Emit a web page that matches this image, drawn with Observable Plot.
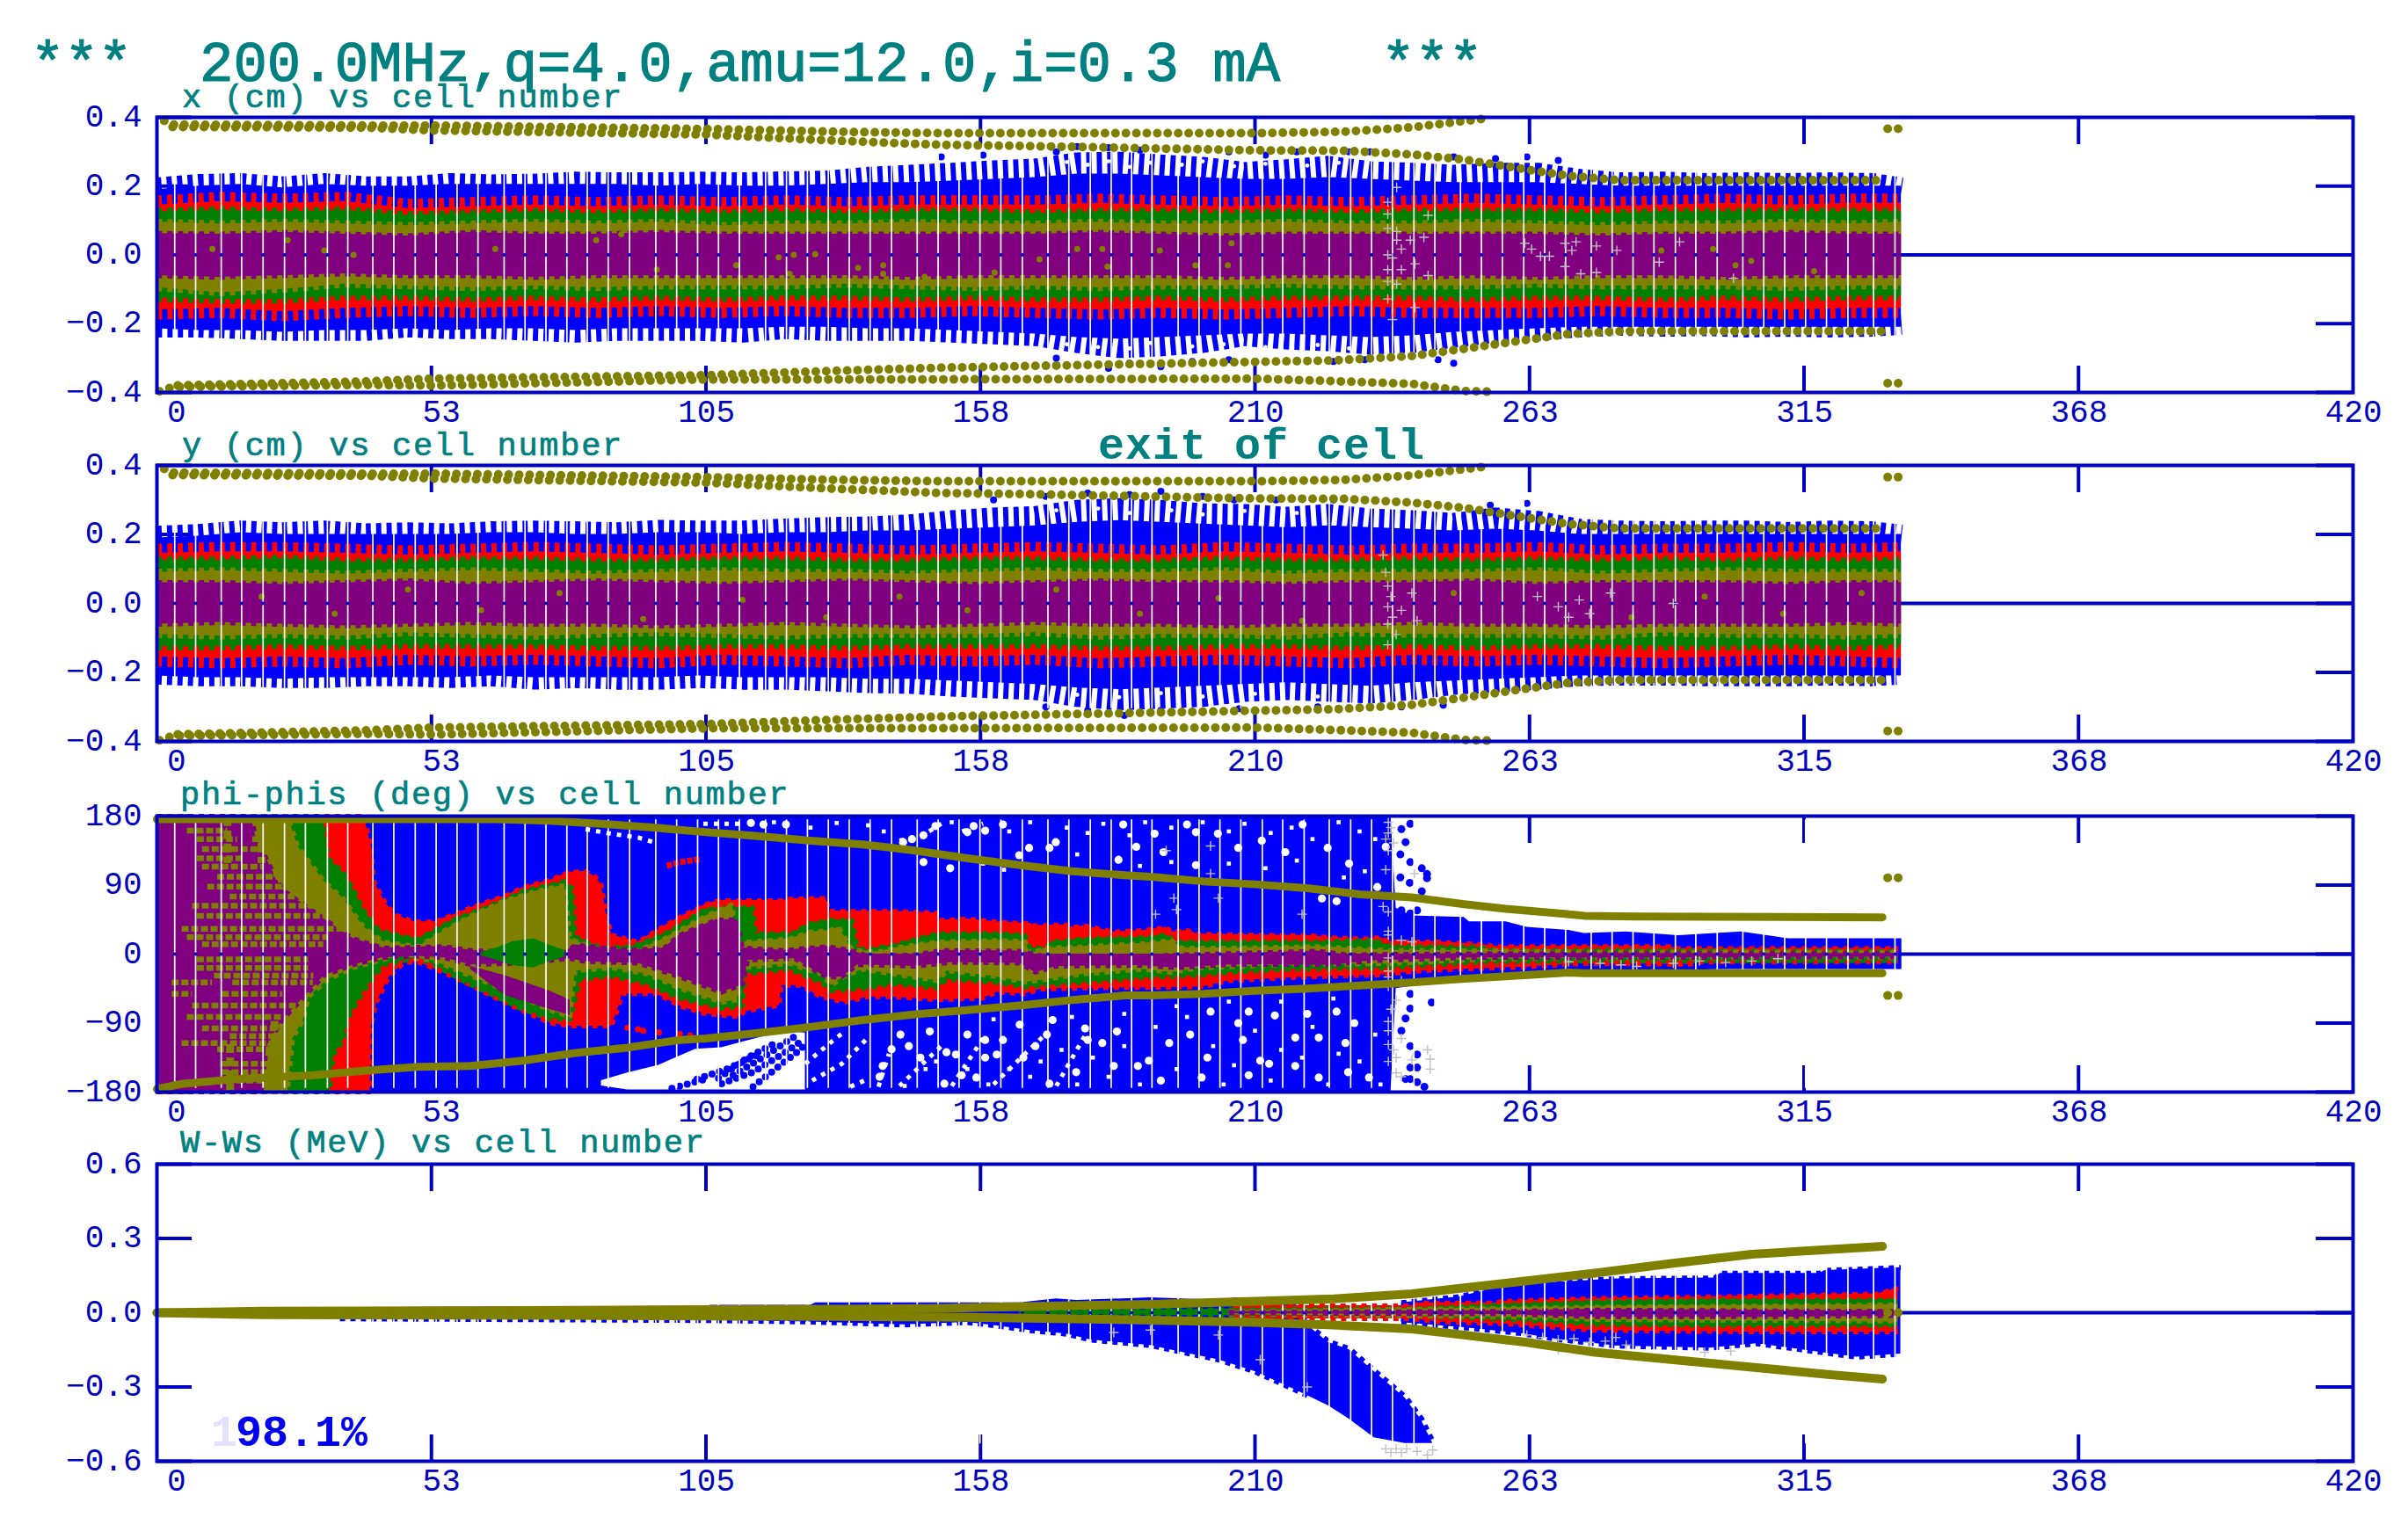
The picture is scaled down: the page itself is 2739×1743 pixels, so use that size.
<!DOCTYPE html>
<html><head><meta charset="utf-8">
<script src="https://cdn.jsdelivr.net/npm/d3@7"></script>
<script src="https://cdn.jsdelivr.net/npm/@observablehq/plot@0.6"></script>
<style>
html,body{margin:0;padding:0;background:#fff}
#page{position:relative;width:2739px;height:1743px;overflow:hidden;background:#fff}
#page svg{position:absolute;left:0;overflow:visible}
#page svg text{-webkit-text-stroke:0.9px #0000c0}
.lbl{position:absolute;font-family:"Liberation Mono",monospace;color:#008080;white-space:pre;z-index:5;line-height:1}
</style></head><body><div id="page"></div>
<script>
const DARK="#0000c0",BLUE="#0000ff",RED="#ff0000",GREEN="#008000",OLIVE="#808000",PURPLE="#800080",GRAY="#c0c0c0";
const xLabelTicks=[0,52.5,105,157.5,210,262.5,315,367.5,420];
const xInnerTicks=[52.5,105,157.5,210,262.5,315,367.5];

// white gaps between cell groups (drift spaces with no plotted cell)
const gapCells=[3.4,7.4,12.3,16.2,20.3,24.4,28.4,32.6,36.5,41.3,45.3,49.4,53.4,57.4,61.4,66.4,70.4,74.4,78.4,82.3,86.3,90.4,95.4,99.4,103.4,107.4,111.4,116.4,120.4,124.4,128.4,132.4,136.4,140.5,145.4,149.4,153.4,157.4,161.4,165.5,170.4,174.4,178.5,182.5,186.4,190.3,195.3,199.3,203.3,207.3,211.4,215.3,219.4,224.2,228.3,232.3,236.3,240.4,244.4,249.3,253.3,257.3,261.4,265.4,269.4,274.3,278.3,282.3,286.3,290.4,294.3,298.4,303.3,307.3,311.3,315.3,319.3,323.4,328.3,332.4];

// ---- panels 1 and 2: sampled cells
const cellsA=[0,8,16,24,32,40,48,56,64,72,80,88,96,104,112,120,128,136,144,152,160,168,176,184,192,200,208,216,224,232,240,248,256,264,272,280,288,296,304,312,320,328,333.6];
const cellsB=[0,12,24,36,48,60,72,84,96,108,120,132,144,156,168,180,192,204,216,228,240,252,264,276,288,300,312,324,333.6];

const xBlueTipTop=[.225,.235,.238,.228,.238,.228,.228,.238,.234,.236,.242,.24,.24,.242,.24,.243,.245,.256,.262,.268,.275,.28,.298,.3,.292,.285,.27,.278,.288,.272,.268,.262,.268,.268,.25,.24,.242,.238,.24,.238,.24,.238,.225];
const xBlueBodyTop=[.19,.2,.205,.195,.205,.2,.2,.205,.205,.205,.205,.205,.2,.205,.2,.2,.205,.21,.21,.215,.22,.225,.235,.235,.23,.225,.22,.22,.225,.22,.215,.21,.21,.21,.205,.2,.2,.2,.2,.2,.2,.2,.2];
const xBlueTipBot=[-.24,-.24,-.245,-.25,-.25,-.25,-.24,-.245,-.245,-.25,-.255,-.25,-.25,-.25,-.255,-.245,-.25,-.25,-.25,-.255,-.26,-.265,-.285,-.3,-.295,-.285,-.265,-.275,-.28,-.29,-.285,-.27,-.255,-.25,-.24,-.235,-.238,-.236,-.24,-.238,-.24,-.238,-.232];
const xBlueBodyBot=[-.215,-.22,-.22,-.225,-.22,-.22,-.215,-.22,-.215,-.215,-.22,-.215,-.215,-.215,-.215,-.21,-.21,-.215,-.215,-.22,-.225,-.23,-.24,-.245,-.24,-.235,-.23,-.23,-.235,-.24,-.235,-.225,-.22,-.215,-.21,-.21,-.21,-.21,-.21,-.21,-.21,-.21,-.21];
const xRedTop=[.145,.155,.15,.155,.135,.14,.145,.14,.145,.14,.145,.14,.145,.145,.145,.15,.145,.14,.145,.14,.145,.15,.145,.14,.145,.15,.145,.15,.15];
const xRedBot=[-.16,-.155,-.165,-.155,-.15,-.155,-.15,-.155,-.15,-.155,-.15,-.155,-.155,-.15,-.155,-.16,-.155,-.16,-.155,-.15,-.155,-.155,-.155,-.15,-.155,-.155,-.16,-.155,-.155];
const xGreenTop=[.125,.13,.125,.13,.115,.12,.125,.12,.125,.12,.125,.12,.125,.125,.12,.125,.125,.12,.125,.12,.125,.125,.125,.12,.125,.125,.125,.125,.125];
const xGreenBot=[-.125,-.13,-.13,-.12,-.12,-.125,-.12,-.125,-.12,-.125,-.12,-.12,-.125,-.12,-.125,-.125,-.12,-.125,-.12,-.12,-.12,-.125,-.12,-.12,-.125,-.12,-.125,-.12,-.12];
const xOliveTop=[.095,.09,.095,.09,.085,.09,.095,.09,.095,.085,.09,.09,.095,.09,.09,.095,.09,.09,.095,.09,.09,.095,.09,.085,.09,.09,.095,.09,.095];
const xOliveBot=[-.095,-.11,-.1,-.085,-.09,-.095,-.09,-.095,-.09,-.09,-.09,-.085,-.09,-.095,-.09,-.095,-.09,-.09,-.085,-.09,-.09,-.09,-.085,-.09,-.09,-.09,-.095,-.09,-.09];
const xPurpleTop=[.062,.06,.065,.06,.055,.065,.06,.06,.065,.06,.06,.06,.06,.06,.06,.065,.06,.055,.06,.06,.06,.06,.06,.055,.06,.06,.065,.06,.06];
const xPurpleBot=[-.06,-.065,-.06,-.055,-.06,-.06,-.065,-.06,-.06,-.06,-.06,-.06,-.065,-.06,-.06,-.06,-.06,-.065,-.06,-.06,-.065,-.06,-.065,-.06,-.06,-.065,-.06,-.06,-.06];

const yBlueTipTop=[.225,.23,.24,.235,.24,.232,.235,.232,.238,.24,.238,.235,.242,.24,.24,.246,.25,.252,.258,.27,.278,.282,.3,.305,.3,.29,.288,.28,.288,.275,.27,.262,.278,.268,.245,.24,.238,.24,.24,.236,.24,.238,.228];
const yBlueBodyTop=[.19,.195,.205,.2,.2,.2,.2,.2,.205,.205,.2,.2,.205,.205,.2,.205,.205,.21,.21,.215,.22,.225,.235,.24,.235,.23,.225,.22,.225,.22,.215,.21,.215,.21,.2,.2,.2,.2,.2,.2,.2,.2,.2];
const yBlueTipBot=[-.235,-.24,-.24,-.245,-.245,-.24,-.24,-.245,-.24,-.25,-.245,-.25,-.25,-.245,-.25,-.25,-.255,-.26,-.262,-.27,-.275,-.28,-.3,-.31,-.305,-.3,-.285,-.28,-.285,-.29,-.28,-.265,-.258,-.25,-.24,-.238,-.238,-.24,-.24,-.24,-.238,-.24,-.235];
const yBlueBodyBot=[-.21,-.215,-.215,-.22,-.215,-.215,-.215,-.215,-.21,-.215,-.215,-.215,-.215,-.21,-.215,-.215,-.215,-.22,-.22,-.225,-.23,-.235,-.245,-.25,-.245,-.24,-.235,-.23,-.235,-.24,-.23,-.225,-.22,-.215,-.21,-.21,-.21,-.21,-.21,-.21,-.21,-.21,-.21];
const yRedTop=[.145,.15,.15,.145,.14,.145,.15,.145,.14,.145,.15,.145,.14,.145,.15,.145,.14,.15,.145,.14,.145,.145,.15,.14,.145,.145,.15,.145,.15];
const yRedBot=[-.155,-.16,-.155,-.16,-.15,-.155,-.15,-.155,-.16,-.15,-.155,-.16,-.15,-.155,-.15,-.16,-.155,-.15,-.155,-.16,-.15,-.155,-.15,-.155,-.16,-.155,-.15,-.155,-.16];
const yGreenTop=[.125,.125,.13,.12,.12,.125,.125,.12,.12,.125,.125,.12,.12,.125,.125,.12,.12,.125,.12,.12,.125,.12,.125,.12,.125,.12,.125,.12,.125];
const yGreenBot=[-.125,-.125,-.12,-.125,-.12,-.12,-.12,-.125,-.125,-.12,-.12,-.125,-.12,-.12,-.12,-.125,-.125,-.12,-.12,-.125,-.12,-.125,-.12,-.12,-.125,-.125,-.12,-.125,-.12];
const yOliveTop=[.09,.095,.09,.085,.09,.095,.09,.085,.09,.095,.09,.09,.085,.09,.095,.09,.09,.095,.085,.09,.09,.09,.095,.085,.09,.095,.09,.09,.09];
const yOliveBot=[-.09,-.095,-.09,-.095,-.085,-.09,-.095,-.09,-.085,-.09,-.095,-.09,-.09,-.09,-.085,-.095,-.09,-.09,-.095,-.085,-.09,-.09,-.09,-.095,-.085,-.09,-.09,-.095,-.09];
const yPurpleTop=[.06,.06,.055,.06,.065,.055,.06,.065,.06,.055,.06,.065,.06,.055,.06,.065,.06,.06,.055,.06,.06,.065,.055,.06,.06,.06,.055,.06,.06];
const yPurpleBot=[-.06,-.055,-.06,-.065,-.06,-.055,-.06,-.06,-.065,-.06,-.055,-.06,-.065,-.06,-.055,-.06,-.06,-.065,-.06,-.06,-.055,-.06,-.06,-.065,-.06,-.06,-.06,-.055,-.06];

// stray particles outside the main columns
const xBlueStray=[[150,.285],[158,.29],[172,.3],[176,.315],[182,.312],[188,.305],[195,.31],[205,.3],[212,.29],[218,.3],[228,.3],[232,.3],[248,.285],[256,.28],[262,.285],[268,.275],[172,-.3],[178,-.32],[182,-.33],[186,-.315],[192,-.325],[198,-.31],[205,-.305],[225,-.31],[231,-.305],[245,-.305],[248,-.315]];
const yBlueStray=[[160,.3],[170,.31],[178,.32],[186,.315],[192,.325],[200,.31],[206,.3],[214,.3],[225,.3],[255,.285],[262,.29],[170,-.3],[178,-.31],[185,-.325],[192,-.31],[200,-.315],[207,-.305],[222,-.3],[238,-.3],[246,-.295]];
const xTipSpecks=[[174,.27],[178,.262],[182,.272],[186,.256],[190,.268],[196,.262],[200,.272],[206,.258],[212,.265],[220,.26],[226,.268],[174,-.26],[180,-.268],[186,-.272],[190,-.256],[198,-.266],[204,-.26],[212,-.268],[222,-.262],[228,-.272]];
const yTipSpecks=[[172,.27],[180,.275],[186,.262],[194,.27],[200,.258],[208,.268],[218,.262],[176,-.265],[184,-.272],[192,-.26],[200,-.27],[210,-.262],[222,-.27]];

// olive extreme-particle rows, shared reading for x and y panels
const envUpOuter=[[0.5,.396],[3,.379],[40,.376],[53,.376],[105,.366],[130,.358],[150,.354],[210,.354],[227,.358],[240,.371],[250,.389],[255,.398]];
const envUpInner=[[3,.372],[40,.37],[53,.362],[105,.35],[130,.332],[150,.32],[165,.317],[210,.304],[227,.303],[240,.292],[250,.277],[262,.248],[270,.23],[280,.217],[330,.217]];
const envLoInner=[[3,-.38],[40,-.368],[53,-.36],[105,-.35],[130,-.337],[150,-.328],[210,-.311],[225,-.307],[240,-.294],[250,-.273],[262,-.247],[270,-.23],[280,-.222],[330,-.222]];
const envLoOuter=[[0.5,-.397],[3,-.384],[40,-.378],[53,-.38],[105,-.362],[150,-.362],[210,-.36],[225,-.367],[240,-.375],[250,-.396],[255,-.398]];
const xEndDots=[[331,.367],[333,.367],[331,-.373],[333,-.373]];
const yEndDots=[[331,.366],[333,.366],[331,-.37],[333,-.37]];

const xGrayCrosses=[[235.4,.153],[235.4,.119],[235.4,.077],[237.1,.068],[237.1,.043],[238,.017],[235.4,0],[236.3,-.009],[235.4,-.043],[238,-.043],[235.4,-.077],[237.1,-.085],[239.7,.043],[242.3,.051],[240.6,-.026],[243.1,-.06],[237.1,.196],[243.1,.115],[261.6,.034],[262.9,.017],[264.6,-.004],[266.3,-.004],[269.3,.034],[270.6,.013],[271.4,.038],[269.3,-.034],[272.3,-.055],[275.3,-.051],[275.3,.026],[279.2,.013],[291.2,.038],[287.3,-.021],[301.5,-.068],[235.4,-.128],[240.6,-.153],[236.3,-.188]];
const yGrayCrosses=[[234.5,.14],[235,.09],[235.4,.05],[236,.02],[235.4,-.01],[236.3,-.04],[235.4,-.06],[237,-.09],[235.4,-.12],[238,-.02],[240,.03],[241,-.05],[264,.02],[268,-.01],[270,-.04],[272,.01],[274,-.03],[278,.03],[290,.0]];
const xSpeckles=[[118.9,-.007],[110.8,-.03],[121.8,0],[125.9,.002],[134.1,-.038],[138.9,-.03],[138.9,-.055],[121,-.055],[146.8,-.064],[160.2,-.051],[168.8,-.013],[176,.017],[191.8,.013],[204.8,-.03],[205.5,.034],[180.8,.017],[181.8,-.034],[198.6,-.03],[10.6,.017],[32,.013],[25,.043],[14.5,-.077],[37.6,0],[64.7,.017],[88.8,.06],[84,.043],[95.6,-.043],[301.9,-.03],[287.7,.013],[304.9,-.017],[316.9,-.047],[297.6,.017]];
const ySpeckles=[[20,.02],[34,-.03],[48,.04],[62,-.02],[77,.03],[93,-.045],[112,.01],[128,-.04],[142,.02],[155,-.02],[172,.04],[188,-.03],[203,.015],[219,-.05],[248,.03],[282,-.04],[296,.02],[311,-.03],[326,.03]];

// ---- panel 3 (phi-phis)
const p3BlueTop=[[0,180],[236,180],[237,60],[240,50],[250,48],[251,42],[258,42],[262,35],[270,31],[273,27],[281,29],[291,24],[303,29],[308,24],[312,20],[333.7,20]];
const p3BlueBot=[[0,-180],[236,-180],[237,-45],[250,-32],[260,-26],[273,-24],[300,-20],[333.7,-20]];
const p3BlueStray=[[239.7,120],[241.9,112],[242.9,104.5],[242.9,99],[241.9,82],[239.6,93],[238.8,146],[239.7,170],[238,163],[238,57],[241,57],[239.7,53],[243.8,-63],[239.7,-52],[239.7,-71],[238.8,-84],[239.7,-120],[241,-131],[239.7,-148],[241,-148],[238.8,-163],[239.7,-163],[241,-167],[242.4,-173],[238,-100],[238,-30],[237.8,100],[237.8,130]];
const p3WedgeCells=[85,90,96,103,108,113,118,122,124];
const p3WedgeTop=[-165,-155,-145,-124,-122,-113,-104,-102,-103];
const p3WedgeBot=[-172,-177,-177,-177,-177,-177,-177,-177,-177];
const p3BlueStrings=[
 [[107.4,-162],[113,-135],[118.3,-116]],
 [[110.2,-158],[115.8,-135],[122.5,-105]],
 [[108,-169],[114,-154],[120.3,-127.5],[123.6,-112]],
 [[114,-173],[119,-146],[122.5,-127.5],[124,-118]],
 [[103.3,-163],[109,-150],[115,-131]],
 [[98.5,-175],[105,-163]]];
const p3WhiteStrings=[
 [[124,-143],[128.7,-116],[131.5,-101]],
 [[125.3,-165],[131,-143],[136,-109]],
 [[132.6,-173],[136,-163]],
 [[104.5,170],[111.6,170]],
 [[82,163],[86,158],[92,152],[95,146]],
 [[142,148],[146,153],[150,170]],
 [[154,160],[158,170]],
 [[138,-173],[140,-130]],
 [[142,-172],[150,-120]],
 [[152,-172],[158,-110]],
 [[160,-170],[170,-104]],
 [[172,-172],[178,-100]]];
const p3WhiteSpecks=[[148.9,167],[146.6,155],[144.4,150],[142.7,146],[156.2,167],[155,159],[158.4,161],[161.8,169],[166.8,138.5],[170.7,138.5],[171.9,146],[187.3,140],[184.8,169],[183.9,123],[164.9,129],[146.6,120],[151.7,112],[120.3,169],[116,169],[113.6,171],[140.5,-124],[138.8,-146],[143.8,-120],[146,-135],[151,-128],[152.8,-131],[155,-105],[158.4,-112],[161.8,-112],[160.6,-131],[158.4,-135],[156.7,-161],[150.6,-169],[170.2,-105],[168,-120],[177.5,-97],[178,-112],[175.8,-154],[183.6,-101],[183,-146],[170.7,-169],[165.7,-135],[180.8,-116],[165,-92],[171.3,-86],[147.8,-101],[142.2,-105],[153.9,-158],[138.2,-160],[187.6,-146],[198.7,159],[202.9,157],[206.8,138.5],[190.8,157],[192.5,133],[198.7,116],[211.3,148],[215.8,133],[219.1,169],[223.9,138.5],[228,118],[225.6,69],[222.8,72.5],[233.4,87.5],[235,140],[197,169],[189.7,-139],[193.6,-116],[200.9,-135],[201.5,-75],[206.8,-90],[208.8,-75],[208.8,-158],[212.7,-143],[217.7,-146],[220,-78],[222.2,-109],[227.3,-116],[222.2,-161],[217.7,-109],[213.8,-80],[229,-90],[225.6,-75],[227.8,-154],[199.8,-161],[231.8,-161],[192,-165],[207.7,-112],[197.6,-105],[211,-139]];
const p3SmallSpecks=[[118,172],[125,165],[130,171],[136,168],[139,160],[152,172],[163,160],[167,172],[174,165],[178,158],[181,170],[186,155],[189,172],[194,165],[200,172],[205,160],[208,170],[213,158],[217,165],[221,150],[226,172],[230,160],[233,150],[194,120],[205,118],[212,112],[218,122],[227,100],[231,108],[188,115],[176,130],[158,118],[162,110],[143,-172],[147,-150],[149,-140],[155,-150],[159,-170],[163,-150],[167,-160],[169,-140],[173,-125],[176,-170],[179,-135],[182,-160],[185,-120],[188,-170],[191,-95],[195,-150],[197,-82],[202,-120],[204,-170],[206,-145],[210,-100],[213,-165],[215,-125],[219,-135],[221,-95],[224,-170],[226,-130],[230,-140],[233,-105],[234,-170],[160,-85],[175,-82],[185,-78],[195,-68],[205,-62],[215,-62],[225,-58]];
const p3RedTop=[[0,180],[39.6,180],[41,140],[41.5,95],[43.5,69],[45.4,52],[49.2,42],[53,42],[56.9,52],[61.7,65],[66.6,76],[70.4,88],[75.3,97],[78.7,107],[82,108],[84,100],[85,90],[86,50],[87,25],[92,16],[95.6,31],[100.4,50],[105,65],[107.4,70],[119.7,70],[121,72],[128,73],[128.5,56],[140.5,56],[149,54],[149.5,44],[155,46],[160.6,42],[167,40],[168,37],[174,38.5],[175,35],[177.5,37],[183,29],[188.7,31],[193,35],[194,29],[197,31],[199,26],[221,24],[224.5,21.5],[230.6,20],[234,21.5],[236,16],[244.7,16],[253,13],[256,10],[272.7,10],[289,10],[291,7.5],[333,7.5]];
const p3RedBot=[[0,-180],[40.8,-180],[41,-94],[42,-63],[44.4,-30],[47.3,-11],[50.2,-11],[54,-22],[58.9,-37],[63.7,-54],[69.5,-73],[75.3,-90],[79,-94],[86.9,-94],[88,-75],[89,-52],[95.6,-52],[100.4,-69],[105,-78],[111.3,-82],[112.4,-75],[119,-67],[119.5,-41],[123,-41],[127,-56],[131.5,-63],[136,-56],[140.5,-56],[149.4,-60],[158,-58],[160.6,-50],[166,-52],[169,-46],[177.5,-44.5],[199.8,-43],[205,-35],[216.6,-31],[225,-29],[233.4,-27.5],[241.9,-22],[253,-19],[261.5,-17],[272.7,-12.5],[293,-13.6],[295,-10.5],[333,-10]];
const p3RedStrayTop=[[97.5,115],[100,120],[104,124]];
const p3RedStrayBot=[[90,-96],[92,-98],[93,-100],[96,-102],[100,-104],[102,-106]];
const p3GreenTop=[[0,180],[31.9,180],[32,165],[32.8,125],[35.7,106],[37.6,84],[39.6,57],[42.5,31],[47.3,23],[50,20],[57,46],[63,61],[70,82],[78,95],[79.5,85],[80,23],[85,8],[91,10],[97.5,28],[105,59],[114,61],[114.5,27],[121.4,27],[125,40],[128.7,44],[133,44],[134,8],[136,6],[141,12],[149.4,27],[160,27],[166,25],[167,8],[170,8],[171,16],[177.5,20],[188.7,21.5],[193,25],[195,16],[205,16],[222,16],[233,18],[236,10],[253,9],[256,5],[272.7,5],[333,3.5]];
const p3GreenBot=[[0,-180],[33,-180],[33.8,-131],[35.7,-112],[36.7,-82],[39.6,-48],[43.4,-14],[50,-5],[53,-14],[59,-37],[63.7,-52],[69.5,-71],[75,-84],[79,-86],[81,-33],[87,-29],[93.6,-39],[100,-58],[108,-71],[112,-68],[112.5,-26],[121,-20],[124,-29],[127,-37],[129,-48],[136,-44.5],[140.5,-39],[149.4,-44.5],[151,-33],[160,-37],[166,-43],[177.5,-37],[188.7,-31],[199.8,-27.5],[205,-24],[216.6,-20],[236,-18],[253,-10.5],[272.7,-9],[333,-9]];
const p3OliveTop=[[0,180],[25,180],[27,140],[32,95],[35.7,72],[39.6,35],[43.4,16],[50,10],[55,31],[60,50],[66.6,70],[72.4,82],[78,90],[79,20],[85,5],[92,5],[97,20],[105,50],[110,65],[111,15],[121,20],[125,29],[128.7,31],[130.4,35],[133,5],[138,3],[141,8],[149,16],[160,18],[166,17],[167,1],[170,8],[177.5,10],[188.7,14],[194,18],[196,8],[205,8],[222,10],[236,5],[256,4.5],[272.7,3],[333,2.6]];
const p3OliveBot=[[0,-180],[25,-180],[26,-110],[28,-86],[29,-56],[32.8,-33],[37.6,-18],[43.4,-7],[47,-3],[53,-9],[59,-26],[63.7,-39],[69.5,-56],[75,-73],[79,-82],[80,-22],[87,-18],[93.6,-26],[100,-45],[108,-63],[111,-60],[112,-18],[121,-12.5],[124,-20],[127,-26],[129,-41],[131.5,-29],[135,-20],[140.5,-26],[149.4,-35],[151,-22],[160,-29],[166,-37],[177.5,-26],[188.7,-20],[194,-24],[199.8,-18],[216.6,-14],[236,-12.5],[253,-7],[272.7,-5],[333,-5]];
const p3PurpleTop=[[0,180],[18,180],[19,150],[22,110],[24,84],[32,46],[37.6,20],[43.4,8],[55,10],[60,5],[70,2],[78,2],[80,12],[90,5],[97,8],[100,25],[107,45],[111,45],[112,8],[120,5],[128,10],[132,6],[136,-2],[145,-1],[150,5],[165,4],[170,-3],[188,-3],[195,-1],[205,1],[222,4],[228,-1],[236,0],[260,1],[333,1]];
const p3PurpleBot=[[0,-180],[20,-180],[21,-120],[24,-86],[32,-28],[37.6,-14],[43,-5],[50,-3],[55,-5],[60,-14],[70,-12],[79,-6],[82,-10],[92,-12],[100,-30],[108,-50],[112,-40],[113,-8],[122,-6],[128,-30],[131,-30],[134,-14],[145,-16],[152,-11],[165,-12],[168,-24],[172,-16],[188,-15],[195,-18],[205,-14],[225,-14],[232,-9],[250,-5],[333,-4]];
const p3LobeCells=[60,66.6,75,79];
const p3LobeTop=[-16,-28,-48,-60];
const p3LobeBot=[-20,-54,-72,-80];
const p3GreenBlobCells=[62,65,68,72,75,78];
const p3GreenBlobTop=[2,8,16,20,12,5];
const p3GreenBlobBot=[-2,-8,-15,-18,-10,-4];
// olive rows over the purple core: [phase, first cell, last cell]
const p3OliveRows=[[161,5.8,13.5],[150,7.7,15.4],[150,18.3,24],[137,8.7,24],[125,7.7,16.4],[114,8.7,20.3],[101,11.6,25],[88,9.7,29],[75,14,27],[63,6.8,31.9],[50,7.7,35.7],[33,4.8,37.6],[22,5.8,32.8],[13,8.7,31.9],[-7,7.7,29],[-18,7.7,29],[-28,11,30],[-37,2.9,10.6],[-37,14.5,29.9],[-52,2.9,6.8],[-52,12.5,24],[-67,6.8,27],[-82,5.8,24],[-97,8.7,24],[-107,14,24],[-116,4.8,24],[-124,11.6,24],[-143,12.5,24],[-154,12.5,25],[-165,13.5,24]];
const p3OliveColumns=[[13.5,178,118],[20,178,118],[23,178,100],[14,-118,-178],[22.5,-88,-178]];
const p3EnvTop=[[0,176],[60,176],[65,176],[75,174],[85,170],[95,165],[105,159],[115,154],[125,148],[135,143],[145,135],[155,125],[165,116],[175,108],[185,103],[190,101],[200,95],[210,91],[220,86],[230,78],[240,74],[250,65],[258,59],[270,52],[273,50],[283,49],[330,48]];
const p3EnvBot=[[0,-176],[5,-169],[15,-163],[30,-158],[40,-152],[50,-147],[60,-146],[70,-139],[80,-129],[90,-122],[100,-112],[105,-110],[115,-103],[125,-95],[135,-86],[145,-78.5],[155,-73],[165,-67],[175,-60],[185,-54],[190,-54],[200,-52],[210,-48],[220,-45],[230,-41],[240,-37],[250,-32],[258,-29],[270,-24],[273,-25],[330,-25]];
const p3EndDots=[[331,99.6],[333,99.6],[331,-54],[333,-54]];
const p3GrayCrosses=[[235.5,172],[236,165],[235.5,158],[235,150],[236.5,145],[235.5,135],[235,110],[234.5,62],[235.5,55],[235.5,30],[235.5,25],[238,18],[240,16],[235.5,-5],[235.5,-22],[235.5,-30],[238,-35],[235.5,-42],[237,-60],[236,-72],[235.5,-88],[235.5,-100],[238,-110],[235.5,-118],[236.5,-125],[237,-135],[235.5,-140],[240,-138],[243,-125],[243.5,-137],[243.5,-150],[237,-155],[238,-160],[240.5,105],[193,135],[201.5,141],[201.5,105],[194.5,73],[203,73],[191,52],[195,58],[219,52],[290,-12],[295,-9],[300,-11],[305,-9],[310,-6],[270,-10],[276,-12],[280,-14],[283,-16]];

// ---- panel 4 (W-Ws)
const p4BlueTop=[[35,.02],[105,.026],[106,.03],[125,.03],[126,.04],[165,.04],[172,.056],[176,.05],[190,.06],[204,.05],[206,.06],[214,.06],[218,.03],[220,0]];
const p4BlueBot=[[35,-.024],[105,-.031],[125,-.037],[143,-.049],[155,-.039],[161,-.054],[167,-.072],[174,-.086],[178.6,-.11],[190,-.132],[195,-.155],[203,-.19],[210,-.238],[217.5,-.31],[220,-.335]];
const p4BulgeCells=[220,224,228,232.8,238.7,241.7,244];
const p4BulgeTop=[-.05,-.12,-.149,-.238,-.344,-.43,-.528];
const p4BulgeBot=[-.335,-.375,-.43,-.505,-.528,-.528,-.528];
const p4RightTop=[[238,.04],[249,.064],[255,.094],[261,.117],[268,.123],[279,.137],[298,.14],[299,.159],[318,.159],[319,.17],[333.5,.182]];
const p4RightBot=[[238,-.04],[250,-.06],[261,-.084],[268,-.108],[279,-.134],[297,-.143],[306,-.125],[316.5,-.155],[325,-.179],[333.5,-.167]];
const p4RedTop=[[205,0],[206,.028],[240,.028],[242,.04],[256,.04],[257,.046],[275,.058],[296,.064],[329,.076],[333,.1]];
const p4RedBot=[[205,0],[206,-.025],[240,-.025],[245,-.037],[258,-.046],[275,-.072],[302,-.078],[333,-.078]];
const p4GreenTop=[[165,.006],[205,.015],[240,.018],[258,.034],[275,.046],[296,.052],[333,.052]];
const p4GreenBot=[[165,-.006],[205,-.012],[240,-.014],[258,-.03],[275,-.049],[296,-.054],[333,-.054]];
const p4OliveTop=[[205,.008],[258,.02],[275,.025],[296,.028],[333,.034]];
const p4OliveBot=[[205,-.008],[258,-.019],[275,-.03],[333,-.037]];
const p4PurpleTop=[[205,.004],[258,.008],[275,.013],[333,.008]];
const p4PurpleBot=[[205,-.004],[258,-.007],[275,-.019],[306,-.019],[333,-.014]];
const p4EnvTop=[[0,0],[20,.006],[60,.008],[105,.012],[130,.014],[150,.018],[155,.02],[175,.028],[190,.034],[210,.046],[225,.056],[240,.076],[250,.1],[262,.129],[275,.16],[290,.2],[305,.236],[320,.256],[330,.268]];
const p4EnvBot=[[0,0],[20,-.008],[60,-.01],[105,-.013],[130,-.015],[150,-.018],[155,-.019],[175,-.025],[190,-.03],[210,-.039],[225,-.05],[240,-.066],[250,-.09],[262,-.12],[275,-.16],[290,-.19],[305,-.22],[320,-.25],[330,-.268]];
const p4EndDots=[[331,0],[333,0]];
const p4GrayCrosses=[[235,-.55],[236,-.565],[237,-.55],[238,-.565],[239,-.55],[241,-.56],[243,-.575],[244,-.555],[262,-.09],[265,-.1],[268,-.11],[271,-.105],[274,-.12],[277,-.115],[279,-.1],[281,-.13],[268,-.15],[274,-.15],[296,-.16],[301,-.155],[183,-.08],[190,-.07],[203,-.09],[211,-.19],[220,-.3]];

const pairX=d=>d[0],pairY=d=>d[1];
const zip=(xs,ys)=>xs.map((x,i)=>[x,ys[i]]);
const fmt1=d=>(d<0?"\u2212":"")+Math.abs(d).toFixed(1);
const fmt0=d=>(d<0?"\u2212":"")+Math.abs(d);

const half=(arr,color)=>Plot.areaY(arr,{x:pairX,y1:()=>0,y2:pairY,fill:color});
const saw=(arr,color,w=5)=>Plot.line(arr,{x:pairX,y:pairY,stroke:color,strokeWidth:w,strokeDasharray:"5.9 6",strokeLinecap:"butt",strokeLinejoin:"bevel"});
const between=(xs,a,b,color)=>Plot.areaY(xs.map((x,i)=>[x,a[i],b[i]]),{x:d=>d[0],y1:d=>d[1],y2:d=>d[2],fill:color});
const tipLine=(xs,tips,color,dy)=>Plot.line(zip(xs,tips),{x:pairX,y:pairY,dy,stroke:color,strokeWidth:Math.abs(dy)*2,strokeDasharray:"5.9 6",strokeLinecap:"butt",strokeLinejoin:"bevel"});
const beads=(arr,offset=0,r=10)=>Plot.line(arr,{x:pairX,y:pairY,stroke:OLIVE,strokeWidth:r,strokeDasharray:"0 11.9",strokeDashoffset:offset,strokeLinecap:"round",strokeLinejoin:"round"});
const solidEnv=(arr,w=9.5)=>Plot.line(arr,{x:pairX,y:pairY,stroke:OLIVE,strokeWidth:w,strokeLinecap:"round",strokeLinejoin:"round"});
const dots=(arr,color,r)=>Plot.dot(arr,{x:pairX,y:pairY,fill:color,r});
const crosses=arr=>Plot.dot(arr,{x:pairX,y:pairY,symbol:"plus",r:3.6,stroke:GRAY,strokeWidth:1.4});
const gapRules=(span)=>Plot.ruleX(gapCells,{x:d=>d,y1:()=>span[0],y2:()=>span[1],stroke:"#ffffff",strokeWidth:1.7});
const zeroMarks=()=>[Plot.dot(gapCells,{x:d=>d,y:()=>0,fill:DARK,r:2}),Plot.ruleY([0],{x1:()=>333.6,x2:()=>420,stroke:DARK,strokeWidth:4})];

function panel(page,top,bottom,yDomain,yTicks,yFmt,marks){
  const mt=24,mb=70;
  const svg=Plot.plot({
    width:2739,height:bottom-top+mt+mb,marginTop:mt,marginBottom:mb,marginLeft:178,marginRight:63,
    style:{background:"transparent"},
    x:{domain:[0,420],axis:null},
    y:{domain:yDomain,axis:null},
    marks:[
      Plot.axisX({anchor:"top",ticks:xInnerTicks,tickSize:-30,tickFormat:()=>"",label:null,stroke:DARK,strokeWidth:4}),
      Plot.axisX({anchor:"bottom",ticks:xInnerTicks,tickSize:-30,tickFormat:()=>"",label:null,stroke:DARK,strokeWidth:4}),
      Plot.axisY({anchor:"left",ticks:yTicks,tickSize:-40,tickFormat:()=>"",label:null,stroke:DARK,strokeWidth:4}),
      Plot.axisY({anchor:"right",ticks:yTicks,tickSize:-43,tickFormat:()=>"",label:null,stroke:DARK,strokeWidth:4}),
      Plot.axisX({anchor:"bottom",ticks:xLabelTicks,tickSize:0,tickPadding:8,tickFormat:d=>String(Math.round(d)),label:null,textAnchor:"end",dx:33,fontSize:36,fontFamily:"Liberation Mono",fill:DARK}),
      Plot.axisY({anchor:"left",ticks:yTicks,tickSize:0,tickPadding:17,dy:-1.5,tickFormat:yFmt,label:null,fontSize:36,fontFamily:"Liberation Mono",fill:DARK}),
      ...marks,
      Plot.frame({stroke:DARK,strokeWidth:4,fill:"none"})
    ]
  });
  svg.style.top=(top-mt)+"px";
  page.appendChild(svg);
}

function xyMarks(d,cross,speck,endDots,stray,tipSpecks){
  const A=cellsA,B=cellsB;
  return [
    between(A,d.blueBodyTop,d.blueBodyBot,BLUE),
    tipLine(A,d.blueTipTop,BLUE,16),tipLine(A,d.blueTipBot,BLUE,-16),
    dots(stray,BLUE,4),
    dots(tipSpecks,"#fff",2.4),
    between(B,d.redTop,d.redBot,RED),
    saw(zip(B,d.redTop),RED,22),saw(zip(B,d.redBot),RED,22),
    between(B,d.greenTop,d.greenBot,GREEN),
    saw(zip(B,d.greenTop),GREEN,9),saw(zip(B,d.greenBot),GREEN,9),
    between(B,d.oliveTop,d.oliveBot,OLIVE),
    saw(zip(B,d.oliveTop),OLIVE,8),saw(zip(B,d.oliveBot),OLIVE,8),
    between(B,d.purpleTop,d.purpleBot,PURPLE),
    saw(zip(B,d.purpleTop),PURPLE,6),saw(zip(B,d.purpleBot),PURPLE,6),
    dots(speck,OLIVE,3.5),
    gapRules([.305,-.305]),
    ...zeroMarks(),
    crosses(cross),
    beads(envUpInner,0),beads(envUpOuter,6),beads(envLoInner,6),beads(envLoOuter,0),
    dots(endDots,OLIVE,5)
  ];
}

const page=document.getElementById("page");
panel(page,133,446,[-.4,.4],[-.4,-.2,0,.2,.4],fmt1,xyMarks({
  blueBodyTop:xBlueBodyTop,blueBodyBot:xBlueBodyBot,blueTipTop:xBlueTipTop,blueTipBot:xBlueTipBot,
  redTop:xRedTop,redBot:xRedBot,greenTop:xGreenTop,greenBot:xGreenBot,oliveTop:xOliveTop,oliveBot:xOliveBot,purpleTop:xPurpleTop,purpleBot:xPurpleBot
},xGrayCrosses,xSpeckles,xEndDots,xBlueStray,xTipSpecks));
panel(page,529,843,[-.4,.4],[-.4,-.2,0,.2,.4],fmt1,xyMarks({
  blueBodyTop:yBlueBodyTop,blueBodyBot:yBlueBodyBot,blueTipTop:yBlueTipTop,blueTipBot:yBlueTipBot,
  redTop:yRedTop,redBot:yRedBot,greenTop:yGreenTop,greenBot:yGreenBot,oliveTop:yOliveTop,oliveBot:yOliveBot,purpleTop:yPurpleTop,purpleBot:yPurpleBot
},yGrayCrosses,ySpeckles,yEndDots,yBlueStray,yTipSpecks));

panel(page,928,1242,[-180,180],[-180,-90,0,90,180],fmt0,[
  half(p3BlueTop,BLUE),half(p3BlueBot,BLUE),
  dots(p3BlueStray,BLUE,4.5),
  between(p3WedgeCells,p3WedgeTop,p3WedgeBot,"#ffffff"),
  ...p3BlueStrings.map(s=>Plot.line(s,{x:pairX,y:pairY,stroke:BLUE,strokeWidth:8,strokeDasharray:"0 9",strokeLinecap:"round"})),
  ...p3WhiteStrings.map(s=>Plot.line(s,{x:pairX,y:pairY,stroke:"#fff",strokeWidth:5,strokeDasharray:"5 7",strokeLinecap:"butt"})),
  dots(p3WhiteSpecks,"#fff",4.6),
  Plot.dot(p3SmallSpecks,{x:pairX,y:pairY,symbol:"square",fill:"#fff",r:2.6}),
  half(p3RedTop,RED),half(p3RedBot,RED),saw(p3RedTop,RED),saw(p3RedBot,RED),
  Plot.line(p3RedStrayTop,{x:pairX,y:pairY,stroke:RED,strokeWidth:7,strokeDasharray:"6 2",strokeLinecap:"butt"}),
  dots(p3RedStrayBot,RED,3.5),
  half(p3GreenTop,GREEN),half(p3GreenBot,GREEN),saw(p3GreenTop,GREEN),saw(p3GreenBot,GREEN),
  half(p3OliveTop,OLIVE),half(p3OliveBot,OLIVE),saw(p3OliveTop,OLIVE),saw(p3OliveBot,OLIVE),
  half(p3PurpleTop,PURPLE),half(p3PurpleBot,PURPLE),saw(p3PurpleTop,PURPLE),saw(p3PurpleBot,PURPLE),
  between(p3LobeCells,p3LobeTop,p3LobeBot,PURPLE),
  between(p3GreenBlobCells,p3GreenBlobTop,p3GreenBlobBot,GREEN),
  Plot.ruleY(p3OliveRows,{y:d=>d[0],x1:d=>d[1],x2:d=>d[2],stroke:OLIVE,strokeWidth:6.5,strokeDasharray:"8 3"}),
  Plot.ruleX(p3OliveColumns,{x:d=>d[0],y1:d=>d[1],y2:d=>d[2],stroke:OLIVE,strokeWidth:9,strokeDasharray:"10 5"}),
  gapRules([175,-175]),
  ...zeroMarks(),
  crosses(p3GrayCrosses),
  solidEnv(p3EnvTop,9),solidEnv(p3EnvBot,9),
  dots(p3EndDots,OLIVE,5)
]);

panel(page,1324,1662,[-.6,.6],[-.6,-.3,0,.3,.6],fmt1,[
  half(p4BlueTop,BLUE),half(p4BlueBot,BLUE),saw(p4BlueBot,BLUE,6),
  between(p4BulgeCells,p4BulgeTop,p4BulgeBot,BLUE),
  saw(zip(p4BulgeCells,p4BulgeTop),BLUE,8),
  half(p4RightTop,BLUE),half(p4RightBot,BLUE),saw(p4RightTop,BLUE,6),saw(p4RightBot,BLUE,6),
  half(p4RedTop,RED),half(p4RedBot,RED),saw(p4RedTop,RED),saw(p4RedBot,RED),
  half(p4GreenTop,GREEN),half(p4GreenBot,GREEN),saw(p4GreenTop,GREEN,4),saw(p4GreenBot,GREEN,4),
  half(p4OliveTop,OLIVE),half(p4OliveBot,OLIVE),saw(p4OliveTop,OLIVE,4),saw(p4OliveBot,OLIVE,4),
  half(p4PurpleTop,PURPLE),half(p4PurpleBot,PURPLE),saw(p4PurpleTop,PURPLE,4),saw(p4PurpleBot,PURPLE,4),
  Plot.ruleX(gapCells.filter(c=>c>=35),{x:d=>d,y1:()=>.19,y2:()=>-.53,stroke:"#fff",strokeWidth:1.7}),
  ...zeroMarks(),
  crosses(p4GrayCrosses),
  solidEnv(p4EnvTop,10),solidEnv(p4EnvBot,10),
  dots(p4EndDots,OLIVE,5)
]);

// texts above and inside the panels
const texts=[
  ["***  200.0MHz,q=4.0,amu=12.0,i=0.3 mA   ***",35,43,64,0,"#008080",400,1.2],
  ["x (cm) vs cell number",207,94,37,1.7,"#008080",400,.7],
  ["y (cm) vs cell number",207,490,37,1.7,"#008080",400,.7],
  ["exit of cell",1249,484,50,1.0,"#008080",700,0],
  ["phi-phis (deg) vs cell number",205,887,37,1.7,"#008080",400,.7],
  ["W-Ws (MeV) vs cell number",205,1283,37,1.7,"#008080",400,.7],
  ["1",240,1607,50,0,"#e2e2ff",700,0],
  ["98.1%",268,1607,50,0,"#0000ee",700,0]
];
for(const [s,x,y,size,ls,color,w,st] of texts){
  const el=document.createElement("div");
  el.className="lbl";el.textContent=s;
  el.style.cssText=`left:${x}px;top:${y}px;font-size:${size}px;letter-spacing:${ls}px;color:${color};font-weight:${w};-webkit-text-stroke:${st}px ${color}`;
  page.appendChild(el);
}
</script></body></html>
